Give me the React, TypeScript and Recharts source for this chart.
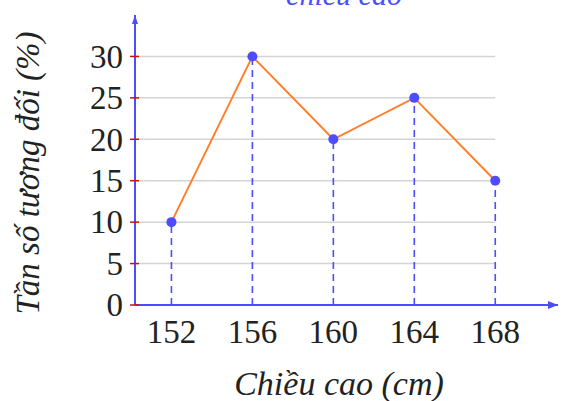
import React from 'react';
import {
  LineChart,
  Line,
  XAxis,
  YAxis,
  ReferenceLine,
  ReferenceDot,
  Customized,
} from 'recharts';

// Chiều cao (cm) và tần số tương đối (%)
const heights = [152, 156, 160, 164, 168];
const frequencies = [10, 30, 20, 25, 15];
const yTicks = [0, 5, 10, 15, 20, 25, 30];

const X_MIN = 150.2;
const X_MAX = 171.1;
const Y_MAX = 35;

const BLUE = '#4d4dff';
const ORANGE = '#ff7f2a';
const GRID = '#d4d4d4';
const RED = '#cc1111';
const FONT = '"Liberation Serif", "DejaVu Serif", serif';

const data = heights.map((h, i) => ({ h, f: frequencies[i] }));

const YTick = ({ x, y, payload }: any) => (
  <g>
    <line x1={x - 5} x2={x + 4} y1={y} y2={y} stroke={RED} strokeWidth={1.5} />
    <text x={x - 12} y={y} dy="0.34em" textAnchor="end" fontFamily={FONT} fontSize={33} fill="#222">
      {payload.value}
    </text>
  </g>
);

const XTick = ({ x, y, payload }: any) => (
  <text x={x} y={y + 38} textAnchor="middle" fontFamily={FONT} fontSize={33} fill="#222">
    {payload.value}
  </text>
);

const Labels = () => (
  <g fontFamily={FONT} fontStyle="italic" fill="#222">
    <text x={344} y={5} textAnchor="middle" fontSize={30} fill={BLUE}>
      chiều cao
    </text>
    <text x={339} y={395} textAnchor="middle" fontSize={34}>
      Chiều cao (cm)
    </text>
    <text
      x={0}
      y={0}
      transform="translate(39 173) rotate(-90)"
      textAnchor="middle"
      fontSize={33}
    >
      Tần số tương đối (%)
    </text>
  </g>
);

const ArrowRight = ({ cx, cy }: any) => (
  <path d={`M${cx},${cy} L${cx - 10},${cy - 4} L${cx - 10},${cy + 4} Z`} fill={BLUE} />
);

const ArrowUp = ({ cx, cy }: any) => (
  <path d={`M${cx},${cy} L${cx - 3},${cy + 9} L${cx + 3},${cy + 9} Z`} fill={BLUE} />
);

export default function App() {
  return (
    <div style={{ position: 'absolute', left: 0, top: 0, background: '#fff' }}>
      <LineChart width={561} height={401} data={data} margin={{ top: 15, right: 3, bottom: 0, left: 0 }}>
        {yTicks
          .filter((t) => t > 0)
          .map((t) => (
            <ReferenceLine
              key={`g-${t}`}
              segment={[
                { x: X_MIN, y: t },
                { x: heights[heights.length - 1], y: t },
              ]}
              stroke={GRID}
              strokeWidth={1.5}
              ifOverflow="visible"
            />
          ))}
        {data.map((d) => (
          <ReferenceLine
            key={`v-${d.h}`}
            segment={[
              { x: d.h, y: 0 },
              { x: d.h, y: d.f },
            ]}
            stroke={BLUE}
            strokeWidth={1.6}
            strokeDasharray="7 5"
            ifOverflow="visible"
          />
        ))}
        <XAxis
          dataKey="h"
          type="number"
          domain={[X_MIN, X_MAX]}
          ticks={heights}
          allowDataOverflow
          height={96}
          axisLine={{ stroke: BLUE, strokeWidth: 2 }}
          tickLine={false}
          tickSize={0}
          tickMargin={0}
          tick={<XTick />}
          interval={0}
        />
        <YAxis
          type="number"
          domain={[0, Y_MAX]}
          ticks={yTicks}
          allowDataOverflow
          width={135}
          axisLine={{ stroke: BLUE, strokeWidth: 2 }}
          tickLine={false}
          tickSize={0}
          tickMargin={0}
          tick={<YTick />}
          interval={0}
        />
        <Line
          dataKey="f"
          stroke={ORANGE}
          strokeWidth={2}
          dot={{ r: 5, fill: BLUE, stroke: BLUE, strokeWidth: 0 }}
          isAnimationActive={false}
        />
        <ReferenceDot x={X_MAX} y={0} r={0} shape={<ArrowRight />} ifOverflow="visible" />
        <ReferenceDot x={X_MIN} y={Y_MAX} r={0} shape={<ArrowUp />} ifOverflow="visible" />
        <Customized component={<Labels />} />
      </LineChart>
    </div>
  );
}
